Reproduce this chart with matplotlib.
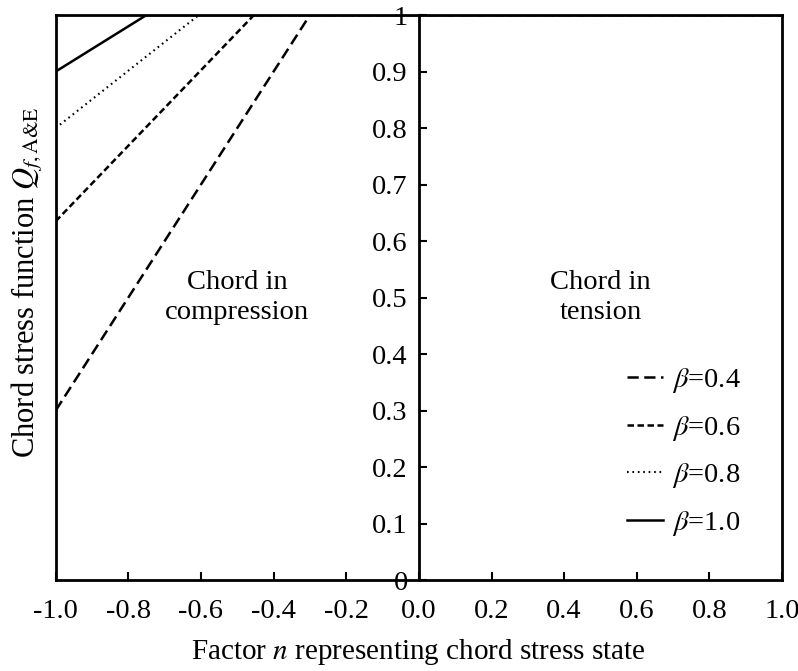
import matplotlib.pyplot as plt

plt.rcParams["font.family"] = ["Liberation Serif", "DejaVu Serif"]
plt.rcParams["mathtext.fontset"] = "stix"

# breakpoints: linear rise from n=-1, then Q=1
beta_labels = ["0.4", "0.6", "0.8", "1.0"]
n_04 = [-1.0, -0.30, 1.0]
q_04 = [0.30, 1.0, 1.0]
n_06 = [-1.0, -0.454, 1.0]
q_06 = [0.635, 1.0, 1.0]
n_08 = [-1.0, -0.606, 1.0]
q_08 = [0.80, 1.0, 1.0]
n_10 = [-1.0, -0.75, 1.0]
q_10 = [0.90, 1.0, 1.0]

x_ticks = [-1.0, -0.8, -0.6, -0.4, -0.2, 0.0, 0.2, 0.4, 0.6, 0.8, 1.0]
y_ticks = [0, 0.1, 0.2, 0.3, 0.4, 0.5, 0.6, 0.7, 0.8, 0.9, 1]
y_tick_labels = ["0", "0.1", "0.2", "0.3", "0.4", "0.5", "0.6", "0.7", "0.8", "0.9", "1"]

fs = 20.5
fig = plt.figure(figsize=(7.98, 6.71), dpi=100)
ax = fig.add_axes([0.0698, 0.1356, 0.9102, 0.842])

lw = 1.8
ax.plot(n_04, q_04, color="k", lw=lw, linestyle=(0, (4.5, 2.2)), label=r"$\beta$=" + beta_labels[0])
ax.plot(n_06, q_06, color="k", lw=lw, linestyle=(0, (2.6, 1.4)), label=r"$\beta$=" + beta_labels[1])
ax.plot(n_08, q_08, color="k", lw=1.5, linestyle=(0, (0.8, 1.8)), label=r"$\beta$=" + beta_labels[2])
ax.plot(n_10, q_10, color="k", lw=lw, linestyle="-", label=r"$\beta$=" + beta_labels[3])

ax.set_xlim(-1, 1)
ax.set_ylim(0, 1)

# y axis sits at n = 0, box edge at n = -1
ax.spines["left"].set_position(("data", 0))
ax.axvline(-1, color="k", lw=2, clip_on=False)
for s in ax.spines.values():
    s.set_linewidth(2)

ax.set_xticks(x_ticks)
ax.set_xticklabels(["%.1f" % v for v in x_ticks])
ax.set_yticks(y_ticks)
ax.set_yticklabels(y_tick_labels)
ax.tick_params(axis="x", direction="in", length=6, width=1.5, labelsize=fs, pad=14, top=False)
ax.tick_params(axis="y", direction="in", length=6, width=1.5, labelsize=fs, pad=8, right=False)

ax.text(-0.5, 0.50, "Chord in\ncompression", ha="center", va="center", fontsize=fs, linespacing=1.25)
ax.text(0.5, 0.50, "Chord in\ntension", ha="center", va="center", fontsize=fs, linespacing=1.25)

ax.legend(loc="center left", bbox_to_anchor=(0.787, 0.227), frameon=False, fontsize=fs,
          handlelength=1.25, handletextpad=0.32, labelspacing=0.65, borderpad=0, borderaxespad=0)

fig.text(0.524, 0.028, r"Factor $n$ representing chord stress state", ha="center", va="center", fontsize=21)

ylab = fig.text(0.034, 0.58, r"Chord stress function $Q_{f,\mathrm{A&E}}$", ha="center", va="center",
                rotation=90, fontsize=22)
try:
    fig.canvas.draw()
except ValueError:
    ylab.set_text(r"Chord stress function $Q_{f,\mathrm{A}}$")

fig.savefig("out.png", dpi=100)
